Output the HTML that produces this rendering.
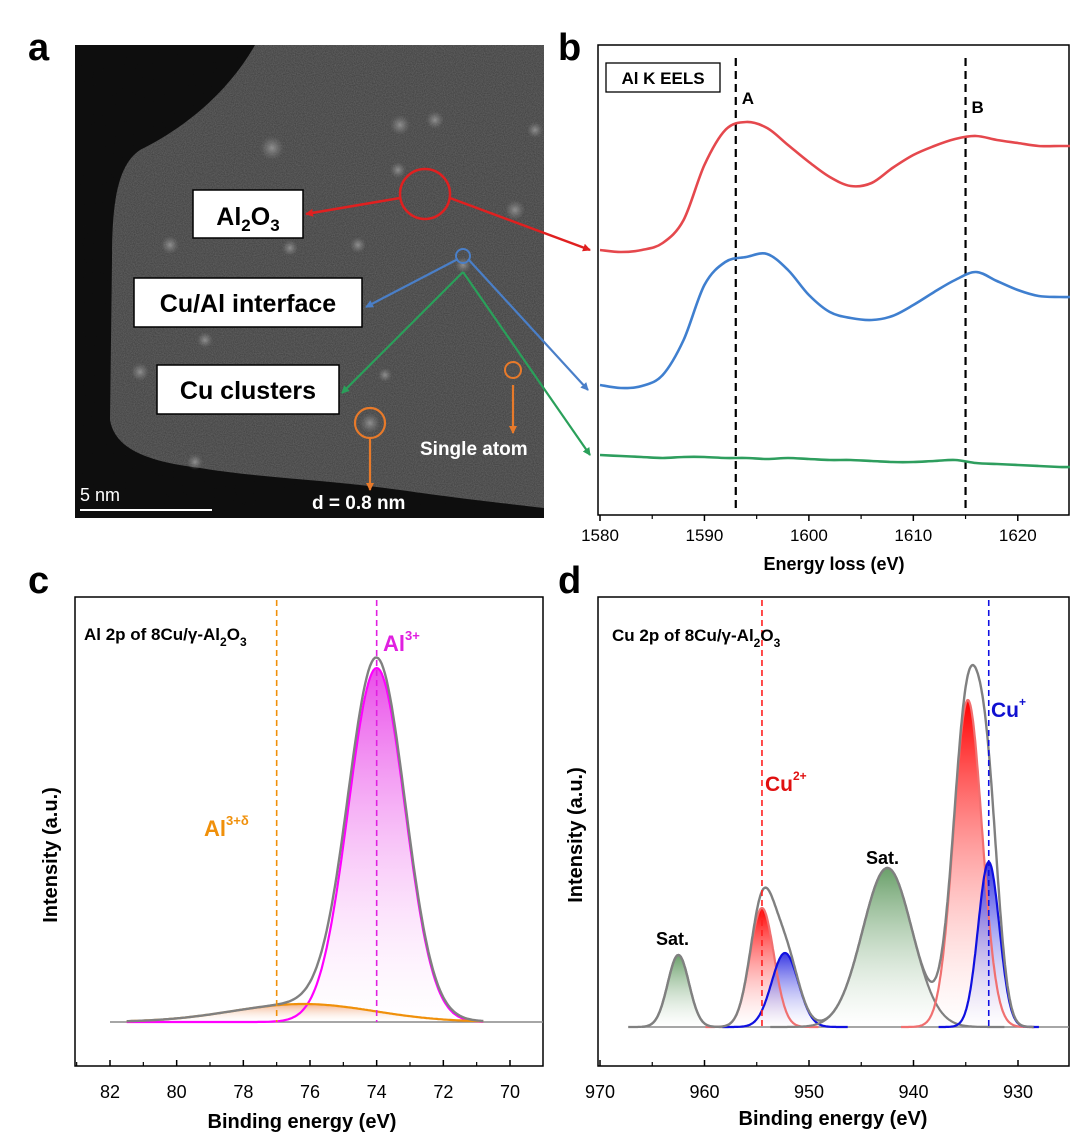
<!DOCTYPE html>
<html><head><meta charset="utf-8"><style>
body{margin:0;background:#fff;}
svg{display:block;font-family:"Liberation Sans",Arial,sans-serif;}
</style></head><body>
<svg id="fig" width="1080" height="1138" viewBox="0 0 1080 1138" xmlns="http://www.w3.org/2000/svg">
<defs>
<radialGradient id="spot" cx="0.5" cy="0.5" r="0.5"><stop offset="0" stop-color="#aaa" stop-opacity="0.7"/><stop offset="1" stop-color="#888" stop-opacity="0"/></radialGradient>
<linearGradient id="gMag" x1="0" y1="0" x2="0" y2="1"><stop offset="0" stop-color="#e000e0" stop-opacity="0.7"/><stop offset="1" stop-color="#fff" stop-opacity="0.2"/></linearGradient>
<linearGradient id="gOr" x1="0" y1="0" x2="0" y2="1"><stop offset="0" stop-color="#f0a070" stop-opacity="0.8"/><stop offset="1" stop-color="#fff" stop-opacity="0.2"/></linearGradient>
<linearGradient id="gRed" x1="0" y1="0" x2="0" y2="1"><stop offset="0" stop-color="#ff0000"/><stop offset="1" stop-color="#fff" stop-opacity="0.3"/></linearGradient>
<linearGradient id="gBlue" x1="0" y1="0" x2="0" y2="1"><stop offset="0" stop-color="#2020e0" stop-opacity="0.9"/><stop offset="1" stop-color="#fff" stop-opacity="0.3"/></linearGradient>
<linearGradient id="gGreen" x1="0" y1="0" x2="0" y2="1"><stop offset="0" stop-color="#6aa06a"/><stop offset="1" stop-color="#fff" stop-opacity="0.4"/></linearGradient>
<marker id="aR" markerWidth="8" markerHeight="8" refX="7" refY="4" orient="auto" markerUnits="userSpaceOnUse" viewBox="0 0 8 8"><path d="M0,0 L8,4 L0,8 z" fill="#e02020"/></marker>
<marker id="aB" markerWidth="8" markerHeight="8" refX="7" refY="4" orient="auto" markerUnits="userSpaceOnUse" viewBox="0 0 8 8"><path d="M0,0 L8,4 L0,8 z" fill="#4a7fc8"/></marker>
<marker id="aG" markerWidth="8" markerHeight="8" refX="7" refY="4" orient="auto" markerUnits="userSpaceOnUse" viewBox="0 0 8 8"><path d="M0,0 L8,4 L0,8 z" fill="#2aa05a"/></marker>
<marker id="aO" markerWidth="8" markerHeight="8" refX="7" refY="4" orient="auto" markerUnits="userSpaceOnUse" viewBox="0 0 8 8"><path d="M0,0 L8,4 L0,8 z" fill="#e87a2a"/></marker>
<filter id="noise" x="0" y="0" width="1" height="1" filterUnits="objectBoundingBox"><feTurbulence type="fractalNoise" baseFrequency="0.9" numOctaves="2" seed="3"/><feColorMatrix values="0 0 0 0 0.6 0 0 0 0 0.6 0 0 0 0 0.6 0 0 0 0.3 0"/></filter>
<clipPath id="imgclip"><rect x="75" y="45" width="469" height="473"/></clipPath>
</defs>

<text x="28" y="60" font-size="38" font-weight="bold">a</text>
<text x="558" y="60" font-size="38" font-weight="bold">b</text>
<text x="28" y="593" font-size="38" font-weight="bold">c</text>
<text x="558" y="593" font-size="38" font-weight="bold">d</text>

<g>
<g clip-path="url(#imgclip)">
<rect x="75" y="45" width="469" height="473" fill="#3c3c3c"/>
<rect x="75" y="45" width="469" height="473" fill="#000" filter="url(#noise)"/>
<path d="M75,45 L255,45 C235,80 200,120 140,150 C118,165 112,200 112,260 L110,420 C115,450 150,462 200,468 C260,478 330,480 400,490 C470,500 520,505 544,508 L544,518 L75,518 Z" fill="#0b0b0b" opacity="0.95"/>
<g fill="url(#spot)">
<circle cx="272" cy="148" r="12"/><circle cx="400" cy="125" r="10"/><circle cx="398" cy="170" r="8"/><circle cx="435" cy="120" r="9"/><circle cx="170" cy="245" r="9"/><circle cx="290" cy="248" r="8"/><circle cx="358" cy="245" r="8"/><circle cx="515" cy="210" r="10"/><circle cx="205" cy="340" r="8"/><circle cx="140" cy="372" r="9"/><circle cx="195" cy="462" r="8"/><circle cx="370" cy="423" r="10"/><circle cx="463" cy="265" r="8"/><circle cx="385" cy="375" r="7"/><circle cx="535" cy="130" r="8"/>
</g>
</g>
<line x1="80" y1="510" x2="212" y2="510" stroke="#fff" stroke-width="2"/>
<text x="80" y="501" font-size="18" fill="#fff">5 nm</text>
<circle cx="425" cy="194" r="25" fill="none" stroke="#e02020" stroke-width="2.5"/>
<line x1="400" y1="198" x2="306" y2="214" stroke="#e02020" stroke-width="2.5" marker-end="url(#aR)"/>
<line x1="450" y1="198" x2="590" y2="250" stroke="#e02020" stroke-width="2.5" marker-end="url(#aR)"/>
<circle cx="463" cy="256" r="7" fill="none" stroke="#4a7fc8" stroke-width="2"/>
<line x1="458" y1="259" x2="366" y2="307" stroke="#4a7fc8" stroke-width="2.2" marker-end="url(#aB)"/>
<line x1="468" y1="259" x2="588" y2="390" stroke="#4a7fc8" stroke-width="2.2" marker-end="url(#aB)"/>
<line x1="463" y1="272" x2="342" y2="393" stroke="#2aa05a" stroke-width="2.2" marker-end="url(#aG)"/>
<line x1="463" y1="272" x2="590" y2="455" stroke="#2aa05a" stroke-width="2.2" marker-end="url(#aG)"/>
<circle cx="370" cy="423" r="15" fill="none" stroke="#e87a2a" stroke-width="2.2"/>
<line x1="370" y1="438" x2="370" y2="490" stroke="#e87a2a" stroke-width="2.2" marker-end="url(#aO)"/>
<circle cx="513" cy="370" r="8" fill="none" stroke="#e87a2a" stroke-width="2"/>
<line x1="513" y1="385" x2="513" y2="433" stroke="#e87a2a" stroke-width="2.2" marker-end="url(#aO)"/>
<g><rect x="193" y="190" width="110" height="48" fill="#fff" stroke="#000" stroke-width="1.5"/><text x="248" y="225" font-size="25" font-weight="bold" text-anchor="middle">Al<tspan font-size="17" dy="6">2</tspan><tspan dy="-6">O</tspan><tspan font-size="17" dy="6">3</tspan></text></g>
<g><rect x="134" y="278" width="228" height="49" fill="#fff" stroke="#000" stroke-width="1.5"/><text x="248" y="312" font-size="25" font-weight="bold" text-anchor="middle">Cu/Al interface</text></g>
<g><rect x="157" y="365" width="182" height="49" fill="#fff" stroke="#000" stroke-width="1.5"/><text x="248" y="399" font-size="25" font-weight="bold" text-anchor="middle">Cu clusters</text></g>
<text x="420" y="455" font-size="19" font-weight="bold" fill="#fff">Single atom</text>
<text x="312" y="509" font-size="19" font-weight="bold" fill="#fff">d = 0.8 nm</text>
</g>

<g id="panelB"></g>
<g id="panelC"></g>
<g id="panelD"></g>
</svg>
<script>
const eelsEnergy = [1580,1582,1584,1586,1588,1590,1592,1594,1596,1598,1600,1602,1604,1606,1608,1610,1612,1614,1616,1618,1620,1622,1624,1625];
const eelsAl2O3 = [265,263,265,272,295,350,385,393,387,370,353,338,329,332,347,360,369,376,379,375,372,369,369,369];
const eelsInterface = [130,127,129,140,175,230,253,258,261,245,220,203,197,195,199,210,223,235,243,234,225,219,218,218];
const eelsClusters = [60,59,58,57,58,58,57,57,56,57,56,55,55,54,53,53,54,55,52,51,50,49,48,48];
const eelsMarkers = [1593,1615];
const eelsMarkerLabels = ["A","B"];
const eelsTicks = [1580,1590,1600,1610,1620];
const alTicks = [82,80,78,76,74,72,70];
const alCenters = [74.0, 76.2];
const alHeights = [354, 18];
const alFwhm = [2.0, 5.0];
const alMarkers = [77, 74];
const cuTicks = [970,960,950,940,930];
const cuCenters = [962.5, 954.5, 952.3, 942.5, 934.8, 932.8];
const cuHeights = [72, 119, 74, 159, 327, 165];
const cuFwhm = [2.4, 2.7, 3.0, 5.6, 3.2, 2.4];
const cuKinds = ["sat","cu2","cu1","sat","cu2","cu1"];
const cuMarkers = [954.5, 932.8];

const NS="http://www.w3.org/2000/svg";
function mk(parent,tag,attrs,text){const e=document.createElementNS(NS,tag);for(const k in attrs)e.setAttribute(k,attrs[k]);if(text!==undefined)e.textContent=text;parent.appendChild(e);return e;}
function lin(d0,d1,r0,r1){return v=>r0+(v-d0)*(r1-r0)/(d1-d0);}
function smooth(pts){let d="M"+pts[0][0].toFixed(1)+","+pts[0][1].toFixed(1);for(let i=0;i<pts.length-1;i++){const p0=pts[i-1]||pts[i],p1=pts[i],p2=pts[i+1],p3=pts[i+2]||p2;const c1x=p1[0]+(p2[0]-p0[0])/6,c1y=p1[1]+(p2[1]-p0[1])/6,c2x=p2[0]-(p3[0]-p1[0])/6,c2y=p2[1]-(p3[1]-p1[1])/6;d+=" C"+c1x.toFixed(1)+","+c1y.toFixed(1)+" "+c2x.toFixed(1)+","+c2y.toFixed(1)+" "+p2[0].toFixed(1)+","+p2[1].toFixed(1);}return d;}
function gauss(x,c,h,w){return h*Math.exp(-4*Math.LN2*((x-c)/w)**2);}

(function(){
const g=document.getElementById('panelB');
const X=lin(1580,1625,600,1070), Y=lin(0,470,515,45);
const frame=mk(g,'rect',{x:598,y:45,width:471,height:470,fill:'none',stroke:'#000','stroke-width':1.5});

eelsTicks.forEach(t=>{
 mk(g,'line',{x1:X(t),y1:515,x2:X(t),y2:521,stroke:'#000','stroke-width':1.5});
 const tl=mk(g,'text',{x:X(t),y:541,'font-size':17,'text-anchor':'middle'},String(t));
 
});
for(let t=1585;t<1625;t+=10)mk(g,'line',{x1:X(t),y1:515,x2:X(t),y2:519,stroke:'#000','stroke-width':1.2});
const xt=mk(g,'text',{x:834,y:570,'font-size':18,'font-weight':'bold','text-anchor':'middle'},'Energy loss (eV)');

eelsMarkers.forEach((m,i)=>{
 const l=mk(g,'line',{x1:X(m),y1:58,x2:X(m),y2:510,stroke:'#000','stroke-width':2.2,'stroke-dasharray':'8,5'});
 
 const t=mk(g,'text',{x:X(m)+6,y:i===0?104:113,'font-size':17,'font-weight':'bold'},eelsMarkerLabels[i]);
 
});
const series=[[eelsAl2O3,'#e5484d','al2o3'],[eelsInterface,'#3f7fcf','cu-al-interface'],[eelsClusters,'#2e9e5e','cu-clusters']];
series.forEach(s=>{
 const p=mk(g,'path',{d:smooth(eelsEnergy.map((e,i)=>[X(e),Y(s[0][i])])),fill:'none',stroke:s[1],'stroke-width':2.6});
 
});
const lg=mk(g,'g',{});

mk(lg,'rect',{x:606,y:63,width:114,height:29,fill:'#fff',stroke:'#000','stroke-width':1.3});
mk(lg,'text',{x:663,y:84,'font-size':17,'font-weight':'bold','text-anchor':'middle'},'Al K EELS');
})();

(function(){
const g=document.getElementById('panelC');
const X=lin(82,70,110,510), Y=lin(0,400,1022,622);
const frame=mk(g,'rect',{x:75,y:597,width:468,height:469,fill:'none',stroke:'#000','stroke-width':1.5});

alTicks.forEach(t=>{
 mk(g,'line',{x1:X(t),y1:1066,x2:X(t),y2:1060,stroke:'#000','stroke-width':1.5});
 const tl=mk(g,'text',{x:X(t),y:1098,'font-size':18,'text-anchor':'middle'},String(t));
 
});
for(let t=83;t>69;t-=2)mk(g,'line',{x1:X(t),y1:1066,x2:X(t),y2:1062,stroke:'#000','stroke-width':1.2});
const xt=mk(g,'text',{x:302,y:1128,'font-size':20,'font-weight':'bold','text-anchor':'middle'},'Binding energy (eV)');

const yt=mk(g,'text',{x:57,y:855,'font-size':20,'font-weight':'bold','text-anchor':'middle',transform:'rotate(-90 57 855)'},'Intensity (a.u.)');

const xs=[];for(let e=81.5;e>=70.8;e-=0.05)xs.push(e);
const cols=[['#ff00ff','url(#gMag)','al3-component'],['#f0900a','url(#gOr)','al3d-component']];
alCenters.forEach((c,i)=>{
 const pts=xs.map(e=>[X(e),Y(gauss(e,c,alHeights[i],alFwhm[i]))]);
 const f=mk(g,'path',{d:'M'+pts.map(p=>p[0].toFixed(1)+','+p[1].toFixed(1)).join(' L')+' Z',fill:cols[i][1],stroke:'none'});
 
});
const env=xs.map(e=>[X(e),Y(alCenters.reduce((s,c,i)=>s+gauss(e,c,alHeights[i],alFwhm[i]),0))]);
mk(g,'line',{x1:X(82),y1:Y(0),x2:543,y2:Y(0),stroke:'#888','stroke-width':1.5});
alCenters.forEach((c,i)=>{
 const pts=xs.map(e=>[X(e),Y(gauss(e,c,alHeights[i],alFwhm[i]))]);
 const p=mk(g,'path',{d:'M'+pts.map(p=>p[0].toFixed(1)+','+p[1].toFixed(1)).join(' L'),fill:'none',stroke:cols[i][0],'stroke-width':2.2});
 
});
const ep=mk(g,'path',{d:'M'+env.map(p=>p[0].toFixed(1)+','+p[1].toFixed(1)).join(' L'),fill:'none',stroke:'#808080','stroke-width':2.4});

const mc=['#f0900a','#e020e0'];
alMarkers.forEach((m,i)=>{const l=mk(g,'line',{x1:X(m),y1:600,x2:X(m),y2:1022,stroke:mc[i],'stroke-width':1.6,'stroke-dasharray':'6,4'});
 });
const t1=mk(g,'text',{x:84,y:640,'font-size':17,'font-weight':'bold'});

t1.innerHTML='Al 2p of 8Cu/γ-Al<tspan font-size="12" dy="6">2</tspan><tspan dy="-6">O</tspan><tspan font-size="12" dy="6">3</tspan>';
const t2=mk(g,'text',{x:383,y:651,'font-size':22,'font-weight':'bold',fill:'#e020e0'});

t2.innerHTML='Al<tspan font-size="13" dy="-11">3+</tspan>';
const t3=mk(g,'text',{x:204,y:836,'font-size':22,'font-weight':'bold',fill:'#f0900a'});

t3.innerHTML='Al<tspan font-size="13" dy="-11">3+δ</tspan>';
})();

(function(){
const g=document.getElementById('panelD');
const X=lin(970,930,600,1018), Y=lin(0,400,1027,627);
const frame=mk(g,'rect',{x:598,y:597,width:471,height:469,fill:'none',stroke:'#000','stroke-width':1.5});

cuTicks.forEach(t=>{
 mk(g,'line',{x1:X(t),y1:1066,x2:X(t),y2:1060,stroke:'#000','stroke-width':1.5});
 const tl=mk(g,'text',{x:X(t),y:1098,'font-size':18,'text-anchor':'middle'},String(t));
 
});
for(let t=965;t>925;t-=10)mk(g,'line',{x1:X(t),y1:1066,x2:X(t),y2:1062,stroke:'#000','stroke-width':1.2});
const xt=mk(g,'text',{x:833,y:1125,'font-size':20,'font-weight':'bold','text-anchor':'middle'},'Binding energy (eV)');

const yt=mk(g,'text',{x:582,y:835,'font-size':20,'font-weight':'bold','text-anchor':'middle',transform:'rotate(-90 582 835)'},'Intensity (a.u.)');

const kinds={sat:['#2a8a2a','url(#gGreen)'],cu2:['#f07070','url(#gRed)'],cu1:['#1010e0','url(#gBlue)']};
cuCenters.forEach((c,i)=>{
 const xs=[];for(let e=c+2*cuFwhm[i];e>=c-2*cuFwhm[i];e-=0.05)xs.push(e);
 const pts=xs.map(e=>[X(e),Y(gauss(e,c,cuHeights[i],cuFwhm[i]))]);
 const f=mk(g,'path',{d:'M'+pts.map(p=>p[0].toFixed(1)+','+p[1].toFixed(1)).join(' L')+' Z',fill:kinds[cuKinds[i]][1]});
 
});
mk(g,'line',{x1:X(966),y1:Y(0),x2:1069,y2:Y(0),stroke:'#888','stroke-width':1.5});
cuCenters.forEach((c,i)=>{
 const xs=[];for(let e=c+2*cuFwhm[i];e>=c-2*cuFwhm[i];e-=0.05)xs.push(e);
 const pts=xs.map(e=>[X(e),Y(gauss(e,c,cuHeights[i],cuFwhm[i]))]);
 const p=mk(g,'path',{d:'M'+pts.map(p=>p[0].toFixed(1)+','+p[1].toFixed(1)).join(' L'),fill:'none',stroke:cuKinds[i]==='sat'?'#808080':kinds[cuKinds[i]][0],'stroke-width':2.2});
 
});
const xs=[];for(let e=966;e>=928.5;e-=0.05)xs.push(e);
const env=xs.map(e=>[X(e),Y(cuCenters.reduce((s,c,i)=>s+gauss(e,c,cuHeights[i],cuFwhm[i]),0))]);
const ep=mk(g,'path',{d:'M'+env.map(p=>p[0].toFixed(1)+','+p[1].toFixed(1)).join(' L'),fill:'none',stroke:'#808080','stroke-width':2.4});

const mc=['#ff2020','#1010e0'];
cuMarkers.forEach((m,i)=>{const l=mk(g,'line',{x1:X(m),y1:600,x2:X(m),y2:1027,stroke:mc[i],'stroke-width':1.6,'stroke-dasharray':'6,4'});
 });
const t1=mk(g,'text',{x:612,y:641,'font-size':17,'font-weight':'bold'});

t1.innerHTML='Cu 2p of 8Cu/γ-Al<tspan font-size="12" dy="6">2</tspan><tspan dy="-6">O</tspan><tspan font-size="12" dy="6">3</tspan>';
const t2=mk(g,'text',{x:765,y:791,'font-size':21,'font-weight':'bold',fill:'#e01010'});

t2.innerHTML='Cu<tspan font-size="12" dy="-11">2+</tspan>';
const t3=mk(g,'text',{x:991,y:717,'font-size':21,'font-weight':'bold',fill:'#1010d0'});

t3.innerHTML='Cu<tspan font-size="12" dy="-11">+</tspan>';
const s1=mk(g,'text',{x:656,y:945,'font-size':18,'font-weight':'bold'},'Sat.');

const s2=mk(g,'text',{x:866,y:864,'font-size':18,'font-weight':'bold'},'Sat.');

})();
</script>
</body></html>
